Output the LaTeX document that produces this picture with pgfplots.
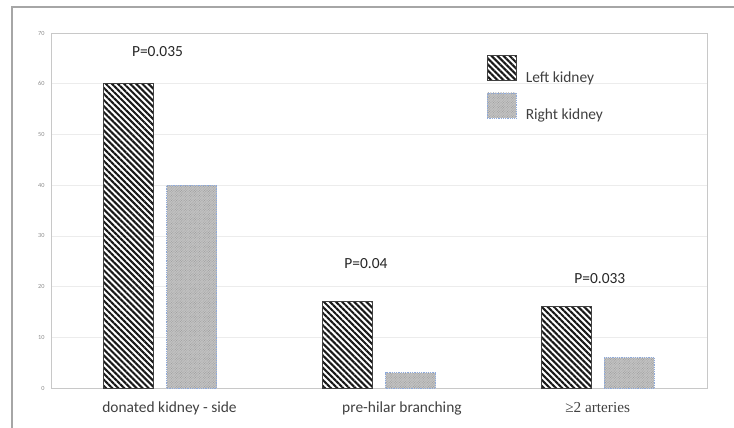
\documentclass[border=0pt]{standalone}
\usepackage{pgfplots}
\pgfplotsset{compat=1.18}
\usetikzlibrary{patterns,patterns.meta}
\usepackage{fontspec}
\setmainfont{Carlito}
\newfontfamily\timesfont{Liberation Serif}

\definecolor{framegray}{HTML}{A6A6A6}
\definecolor{axisgray}{HTML}{C8C8C8}
\definecolor{gridgray}{HTML}{ECECEC}
\definecolor{labgray}{HTML}{404040}
\definecolor{rightborder}{HTML}{8EAADB}

\begin{document}
\begin{tikzpicture}
\path[use as bounding box] (-51bp,-40bp) rectangle (683bp,388bp);
% outer chart frame (cut at right and bottom)
\draw[framegray, line width=1.3bp] (-39bp,-45bp) -- (-39bp,381bp) -- (690bp,381bp);

\begin{axis}[
    scale only axis,
    clip=false,
    width=656bp, height=355bp,
    xmin=-0.5, xmax=2.5,
    ymin=0, ymax=70,
    ytick={0,10,...,70},
    xtick=\empty,
    ymajorgrids=true,
    major grid style={draw=gridgray, line width=0.7bp},
    axis line style={draw=axisgray, line width=0.8bp},
    major tick length=0pt,
    /pgf/number format/assume math mode=true,
    yticklabel style={font=\fontsize{6.3}{7}\selectfont, text=black!45, xshift=-3bp},
    legend cell align=left,
    legend style={draw=none, fill=none, inner sep=0pt, outer sep=0pt,
        at={(rel axis cs:0.6646,0.938)}, anchor=north west,
        font=\fontsize{15.5}{18}\selectfont\color{labgray},
        row sep=9bp,
        nodes={inner sep=0pt, outer sep=0pt}},
    legend image code/.code={%
        \draw[#1] (0bp,-3bp) rectangle (29bp,22bp);
        \path (38bp,0bp);},
]

\addplot[ybar, bar width=50bp, bar shift=-31.5bp,
    draw=black!75, line width=0.8bp,
    pattern={Lines[angle=-45, distance=4.3bp, line width=2.1bp]},
    pattern color=black!90]
    coordinates {(0,60) (1,17) (2,16)};
\addlegendentry{Left kidney}

\addplot[ybar, bar width=50bp, bar shift=31.5bp,
    draw=rightborder, densely dotted, line width=0.8bp,
    fill=black!24,
    postaction={pattern={Lines[angle=45, distance=1.8bp, line width=0.5bp]}, pattern color=black!40}]
    coordinates {(0,40) (1,3) (2,6)};
\addlegendentry{Right kidney}

% p-values
\node[anchor=base, font=\fontsize{15.5}{18}\selectfont, text=black!85] at (axis cs:-0.013,65.27) {P=0.035};
\node[anchor=base, font=\fontsize{15.5}{18}\selectfont, text=black!85] at (axis cs:0.94,23.66) {P=0.04};
\node[anchor=base, font=\fontsize{15.5}{18}\selectfont, text=black!85] at (axis cs:2.01,20.7) {P=0.033};

% category labels
\node[anchor=base, yshift=-24bp, font=\fontsize{15.5}{18}\selectfont, text=labgray] at (axis cs:0.042,0) {donated kidney - side};
\node[anchor=base, yshift=-24bp, font=\fontsize{15.5}{18}\selectfont, text=labgray] at (axis cs:1.105,0) {pre-hilar branching};
\node[anchor=base, yshift=-24bp, font=\timesfont\fontsize{15.3}{18}\selectfont, text=labgray] at (axis cs:2.0,0) {≥2 arteries};
\end{axis}
\end{tikzpicture}
\end{document}
